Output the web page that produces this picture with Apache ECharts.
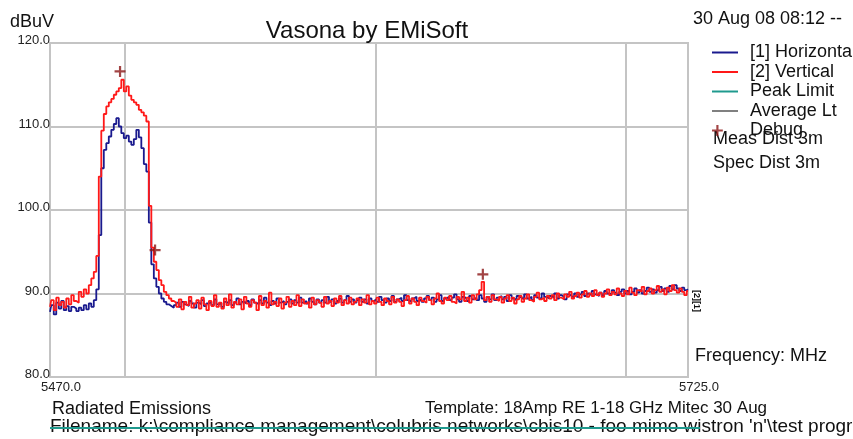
<!DOCTYPE html>
<html>
<head>
<meta charset="utf-8">
<script src="https://cdn.jsdelivr.net/npm/echarts@6/dist/echarts.min.js"></script>
<style>
  html, body { margin: 0; padding: 0; background: #fff; }
  #chart { width: 853px; height: 439px; }
</style>
</head>
<body>
<div id="chart"></div>
<script>
// Sweep: 5470 .. 5725 MHz, 1 MHz per reading
const freqStart = 5470;
const freqStep = 1;

// [1] Horizontal polarisation, dBuV
const horizontal = [
  87.8, 88.6, 87.5, 88.9, 88.2, 89.1, 88.0, 88.5, 87.9, 88.4,
  88.2, 87.9, 88.3, 88.0, 88.6, 88.1, 88.8, 88.4, 89.2, 90.5,
  97.0, 105.0, 107.2, 108.0, 108.8, 109.6, 110.3, 111.0, 110.0, 109.2,
  108.6, 108.9, 108.2, 107.8, 108.5, 109.6, 108.7, 107.4, 105.5, 104.6,
  98.5, 93.5, 91.8, 90.8, 90.0, 89.4, 89.0, 88.7, 88.5, 88.3,
  88.6, 88.9, 88.4, 89.0, 88.7, 88.5, 89.1, 88.8, 88.3, 88.9,
  88.7, 89.2, 88.5, 88.8, 89.0, 88.6, 89.3, 88.7, 88.9, 88.4,
  89.0, 88.8, 89.2, 88.6, 88.9, 89.4, 88.7, 89.0, 88.8, 89.1,
  88.6, 89.3, 88.9, 88.7, 89.2, 88.8, 89.5, 88.9, 88.6, 89.1,
  88.8, 89.4, 88.9, 89.1, 88.7, 89.0, 89.3, 88.8, 89.2, 88.9,
  89.5, 88.9, 89.1, 88.8, 89.4, 89.0, 88.7, 89.3, 88.9, 89.2,
  88.9, 89.6, 89.0, 89.3, 88.8, 89.1, 89.4, 88.9, 89.2, 89.7,
  89.0, 89.3, 88.9, 89.2, 89.5, 89.0, 89.3, 88.8, 89.4, 89.1,
  89.3, 89.0, 89.6, 89.2, 88.9, 89.4, 89.1, 89.7, 89.0, 89.3,
  89.5, 89.1, 89.8, 89.2, 89.0, 89.4, 89.6, 89.1, 89.3, 89.0,
  89.4, 89.7, 89.2, 89.5, 89.0, 89.3, 89.8, 89.1, 89.4, 89.6,
  89.2, 89.5, 89.9, 89.3, 89.0, 89.6, 89.4, 89.1, 89.7, 89.3,
  89.5, 89.2, 89.8, 89.4, 89.0, 89.6, 89.3, 89.9, 89.2, 89.5,
  89.7, 89.3, 89.6, 89.1, 89.8, 89.4, 89.2, 89.7, 89.5, 89.3,
  89.9, 89.4, 89.6, 89.2, 89.8, 89.5, 89.3, 90.0, 89.6, 89.4,
  89.7, 89.5, 90.0, 89.4, 89.8, 89.6, 89.3, 89.9, 89.7, 89.5,
  90.0, 89.6, 89.9, 90.2, 89.7, 90.0, 89.8, 90.3, 89.9, 89.7,
  90.1, 89.8, 90.3, 90.0, 89.9, 90.4, 90.1, 89.8, 90.2, 90.5,
  90.0, 90.3, 89.9, 90.2, 90.6, 90.1, 90.4, 90.0, 90.3, 90.7,
  90.2, 90.5, 90.1, 90.4, 90.8, 90.3, 90.6, 90.2, 90.9, 90.5,
  91.0, 90.6, 90.3, 90.7, 90.4, 90.5
];

// [2] Vertical polarisation, dBuV
const vertical = [
  88.4, 89.2, 88.0, 89.5, 88.6, 89.0, 88.3, 89.4, 88.7, 89.8,
  89.1, 88.9, 90.2, 89.6, 90.5, 90.0, 91.0, 91.8, 92.6, 94.5,
  104.0, 109.5, 111.5, 112.4, 112.9, 113.3, 113.8, 114.2, 114.6, 115.6,
  114.2, 114.8, 113.7, 113.2, 112.9, 112.6, 112.0, 111.7, 111.3, 110.6,
  100.5, 95.5, 93.8, 92.8, 91.6, 91.0, 90.2, 89.8, 89.4, 89.1,
  88.9, 88.4, 89.3, 88.1, 89.0, 88.6, 89.6, 88.3, 88.8, 89.2,
  88.2, 89.5, 88.7, 88.0, 89.1, 88.5, 89.8, 88.4, 88.9, 88.2,
  89.4, 88.6, 89.9, 88.3, 89.0, 88.7, 89.3, 88.1, 89.6, 88.8,
  88.4, 89.2, 88.9, 88.0, 89.7, 88.6, 89.1, 88.3, 90.1, 88.7,
  89.0, 88.5, 89.4, 88.2, 88.9, 89.6, 88.4, 89.1, 88.6, 89.8,
  88.5, 89.3, 88.8, 89.0, 88.3, 89.5, 88.7, 89.2, 88.9, 88.4,
  89.6, 88.8, 89.1, 88.5, 89.4, 88.9, 89.7, 88.6, 89.2, 88.8,
  89.5, 88.7, 89.0, 89.4, 88.6, 89.3, 88.9, 89.8, 88.7, 89.1,
  88.8, 89.5, 89.0, 88.6, 89.4, 89.1, 88.7, 89.6, 88.9, 89.3,
  89.0, 88.5, 89.2, 89.7, 88.8, 89.4, 89.0, 88.6, 89.5, 89.1,
  88.9, 89.6, 89.2, 88.7, 89.4, 90.0, 89.1, 88.8, 89.5, 89.2,
  89.7, 89.0, 88.8, 89.6, 89.3, 90.2, 89.1, 89.5, 88.9, 89.8,
  89.3, 89.9, 90.4, 91.4, 89.2, 89.6, 89.0, 89.8, 89.3, 89.1,
  89.6, 88.9, 89.4, 89.8, 89.1, 89.5, 88.8, 89.3, 89.7, 89.0,
  89.4, 89.9, 89.2, 89.0, 89.6, 90.1, 89.3, 89.5, 89.1, 89.7,
  89.4, 89.8, 89.2, 90.0, 89.5, 89.3, 89.9, 89.6, 90.2, 89.4,
  89.7, 90.1, 89.5, 89.9, 90.3, 89.6, 90.0, 89.7, 90.4, 89.8,
  90.1, 89.6, 90.0, 90.5, 89.8, 90.2, 89.9, 90.6, 90.0, 89.7,
  90.3, 89.9, 90.7, 90.1, 89.8, 90.4, 90.2, 90.8, 89.9, 90.3,
  90.6, 90.0, 90.4, 90.9, 90.2, 90.5, 89.9, 90.7, 90.3, 91.0,
  90.4, 90.1, 90.6, 90.2, 89.8, 90.3
];

// Debug markers: [MHz, dBuV]
const debugPoints = [[5498, 116.6], [5512, 95.2], [5643, 92.3]];

// Axis settings
const yTicks = [80, 90, 100, 110, 120];
const xGridLines = [5500, 5600, 5700];
const xEndLabels = [5470, 5725];

const pair = (vals) => vals.map((v, i) => [freqStart + i * freqStep, v]);

const FONT = '"Liberation Sans", Arial, sans-serif';
const LINE_ICON = 'path://M0,0 L26,0 L26,2 L0,2 Z';
const PLUS_ICON = 'path://M4,0 L6,0 L6,4 L10,4 L10,6 L6,6 L6,10 L4,10 L4,6 L0,6 L0,4 L4,4 Z';
// plus drawn at the left of a 26-wide legend slot
const PLUS_LEGEND = PLUS_ICON + ' M24,5 L24,5.01';

const chart = echarts.init(document.getElementById('chart'), null, { renderer: 'canvas' });

const txt = (text, left, top, size) => ({
  type: 'text', left, top,
  style: { text, font: size + 'px ' + FONT, fill: '#111' }
});

chart.setOption({
  animation: false,
  backgroundColor: '#ffffff',
  grid: {
    left: 50, right: 165, top: 43, bottom: 62,
    show: true, borderColor: '#c4c4c4', borderWidth: 2
  },
  title: {
    text: 'Vasona by EMiSoft',
    left: 362, top: 14, textAlign: 'center',
    textStyle: { fontFamily: FONT, fontWeight: 'normal', fontSize: 24, color: '#111' }
  },
  legend: {
    orient: 'vertical',
    left: 712, top: 43, padding: 0,
    itemWidth: 26, itemHeight: 14, itemGap: 0.5,
    symbolKeepAspect: true,
    textStyle: { fontFamily: FONT, fontSize: 18, lineHeight: 18, color: '#111', padding: [1, 0, 0, 7] },
    data: [
      { name: '[1] Horizontal', icon: LINE_ICON },
      { name: '[2] Vertical', icon: LINE_ICON },
      { name: 'Peak Limit', icon: LINE_ICON },
      { name: 'Average Lt', icon: LINE_ICON },
      { name: 'Debug', icon: PLUS_LEGEND, itemStyle: { color: '#8b1515' } }
    ]
  },
  xAxis: {
    type: 'value',
    min: xEndLabels[0], max: xEndLabels[1],
    axisLine: { show: false },
    axisTick: { show: false, customValues: xGridLines },
    splitLine: { show: true, lineStyle: { color: '#c4c4c4', width: 2 } },
    axisLabel: {
      customValues: xEndLabels,
      formatter: (v) => v.toFixed(1),
      fontFamily: FONT, fontSize: 13, color: '#222', margin: 4,
      padding: [0, 0, 0, 22]
    }
  },
  yAxis: {
    type: 'value',
    min: yTicks[0], max: yTicks[yTicks.length - 1], interval: 10,
    axisLine: { show: false },
    axisTick: { show: false },
    splitLine: { show: true, lineStyle: { color: '#c4c4c4', width: 2 } },
    axisLabel: {
      formatter: (v) => v.toFixed(1),
      fontFamily: FONT, fontSize: 13, color: '#222', margin: 0,
      verticalAlign: 'bottom', padding: [0, 0, -4, 0]
    }
  },
  series: [
    {
      name: '[1] Horizontal', type: 'line', data: pair(horizontal),
      symbol: 'none', step: 'middle',
      lineStyle: { color: '#1a1a8e', width: 1.8 }, itemStyle: { color: '#1a1a8e' }
    },
    {
      name: '[2] Vertical', type: 'line', data: pair(vertical),
      symbol: 'none', step: 'middle',
      lineStyle: { color: '#ff1818', width: 1.8 }, itemStyle: { color: '#ff1818' }
    },
    {
      name: 'Peak Limit', type: 'line', data: [], symbol: 'none',
      lineStyle: { color: '#1f9a8e', width: 2 }, itemStyle: { color: '#1f9a8e' }
    },
    {
      name: 'Average Lt', type: 'line', data: [], symbol: 'none',
      lineStyle: { color: '#808080', width: 1.5 }, itemStyle: { color: '#808080' }
    },
    {
      name: 'Debug', type: 'scatter', data: debugPoints,
      symbol: PLUS_ICON, symbolSize: 11, z: 5,
      itemStyle: { color: '#8b1515' }
    }
  ],
  graphic: [
    txt('dBuV', 10, 13, 18),
    txt('30 Aug 08 08:12 --', 693, 10, 18),
    txt('Meas Dist 3m', 713, 130, 18),
    txt('Spec Dist 3m', 713, 154, 18),
    txt('Frequency: MHz', 695, 347, 18),
    { type: 'text', x: 701, y: 290, rotation: -Math.PI / 2, style: { text: '[2]', font: 'bold 9px ' + FONT, fill: '#111' } },
    { type: 'text', x: 701, y: 301, rotation: -Math.PI / 2, style: { text: '[1]', font: 'bold 9px ' + FONT, fill: '#111' } },
    txt('Radiated Emissions', 52, 400, 18),
    txt('Template: 18Amp RE 1-18 GHz Mitec 30 Aug', 425, 400, 17),
    txt("Filename: k:\\compliance management\\colubris networks\\cbis10 - foo mimo wistron 'n'\\test progr", 50, 417, 19),
    { type: 'line', shape: { x1: 50, y1: 428, x2: 700, y2: 428 }, style: { stroke: '#1f9a8e', lineWidth: 2 }, z: 10 }
  ]
});
</script>
</body>
</html>
